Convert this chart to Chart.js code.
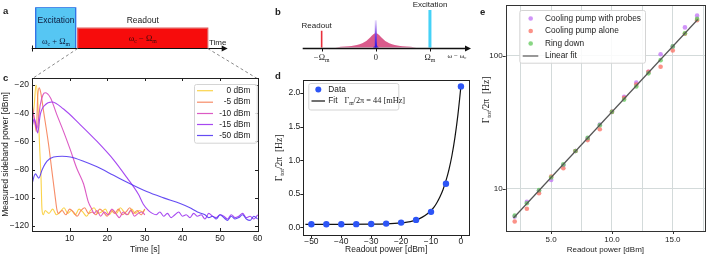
<!DOCTYPE html>
<html>
<head>
<meta charset="utf-8">
<script src="https://cdn.jsdelivr.net/npm/chart.js@4.4.1/dist/chart.umd.min.js"></script>
<style>
  html, body { margin: 0; padding: 0; background: #fff; }
  #fig { position: relative; width: 709px; height: 258px; overflow: hidden; background: #fff; }
  #fig canvas { position: absolute; }
</style>
</head>
<body>
<div id="fig">
  <canvas id="panelA" width="262" height="85" style="left:0px;top:0px"></canvas>
  <canvas id="panelC" width="262" height="188" style="left:0px;top:70px"></canvas>
  <canvas id="panelB" width="218" height="70" style="left:262px;top:0px"></canvas>
  <canvas id="panelD" width="212" height="190" style="left:262px;top:68px"></canvas>
  <canvas id="panelE" width="237" height="258" style="left:472px;top:0px"></canvas>
</div>
<script>
// ---------- data ----------

// a: pulse sequence (arbitrary time units)
const pulseNames = ['Excitation', 'Readout'];
const pulseStart = [0.4, 4.6];
const pulseEnd = [4.4, 17.6];
const pulseHeight = [1, 0.49];

// b: spectrum sketch (units of Omega_m)
const bTickPos = [-1, 0, 1];
const lorentzX = [-0.75, -0.65, -0.5, -0.4, -0.3, -0.2, -0.15, -0.1, -0.05, 0, 0.05, 0.1, 0.15, 0.2, 0.3, 0.4, 0.5, 0.65, 0.75];
const lorentzY = [0, 0.023, 0.038, 0.057, 0.09, 0.155, 0.21, 0.28, 0.35, 0.38, 0.35, 0.28, 0.21, 0.155, 0.09, 0.057, 0.038, 0.023, 0];
const peakX = [-0.06, -0.03, -0.015, 0, 0.015, 0.03, 0.06];
const peakY = [0, 0.03, 0.09, 0.2, 0.09, 0.03, 0];
const sidebandTop = 0.73;
const toneX = [-1, 1];          // readout, excitation
const toneY = [0.45, 1.0];

// c: ring-down traces, time [s] and power [dBm]
const cLabels = ['0 dBm', '-5 dBm', '-10 dBm', '-15 dBm', '-50 dBm'];
const cT0 = [0, 0.3, 0.6, 1.05, 1.5, 2, 2.4, 2.65, 3, 3.5, 4.5, 5.5, 6.5, 7.5, 8.5, 9.5, 10.5, 11.5, 12.5, 13.5, 14.5, 15.5, 16.5, 17.5, 18.5, 19.5, 20.5, 21.5, 22.5, 23.5, 24.5, 25.5, 26.5, 27.5, 28.5, 29.5, 30];
const cP0 = [-31, -41, -34, -20, -29, -62, -86, -108, -112, -109, -111, -108, -112, -110, -107, -111, -109, -112, -108, -110, -113, -109, -107, -111, -110, -108, -112, -109, -111, -107, -110, -112, -108, -111, -109, -110, -108];
const cT5 = [0, 0.6, 1.15, 1.5, 1.9, 2.3, 3.1, 4.4, 5.3, 6.2, 6.6, 7, 8, 9, 10, 11, 12, 13, 14, 15, 16, 17, 18, 19, 20, 21, 22, 23, 24, 25, 26, 27, 28, 29, 30];
const cP5 = [-37, -43, -53, -29, -22, -25, -39, -62, -81, -100, -108, -111, -109, -112, -108, -110, -113, -109, -107, -111, -110, -112, -108, -110, -113, -109, -111, -108, -112, -110, -107, -111, -109, -112, -108];
const cT10 = [0, 0.4, 1.3, 2.2, 2.9, 3.5, 4.9, 6.6, 8.4, 10.2, 11.9, 13.7, 15, 15.9, 16.5, 17.25, 18.25, 19.25, 20.25, 21.25, 22.25, 23.25, 24.25, 25.25, 26.25, 27.25, 28.25, 29.25, 30];
const cP10 = [-32, -41, -51, -34, -27, -25.5, -29, -41, -53, -66, -79, -90, -103, -108, -111, -109, -113, -110, -112, -108, -111, -114, -110, -112, -109, -113, -111, -110, -112];
const cT15 = [0, 0.6, 1.2, 1.5, 2.2, 3.5, 5.3, 8.4, 12.8, 17.3, 21.7, 25.2, 28.3, 29.6, 31, 32, 33, 34, 35, 36, 37, 38, 39, 40, 41, 42, 43, 44, 45, 46, 47, 48, 49, 50, 51, 52, 53, 54, 55, 56, 57, 58, 59, 60];
const cP15 = [-50, -44, -50, -54, -41, -34, -32, -37, -48, -60, -73, -85.5, -97.5, -104.5, -109, -111, -112, -110, -113, -111, -114, -112, -110, -113, -112, -114, -111, -113, -112, -115, -111, -113, -114, -112, -113, -115, -112, -114, -113, -111, -114, -113, -115, -112];
const cT50 = [0, 0.9, 1.8, 2.7, 4, 5.75, 8, 10.2, 13.7, 17.3, 21.7, 26.1, 30.5, 35, 39.4, 42, 44, 46, 47, 48, 49, 50, 51, 52, 53, 54, 55, 56, 57, 58, 59, 60];
const cP50 = [-90, -83, -86, -80, -74, -71, -70.5, -71, -74, -78, -84, -90, -95.5, -100, -104, -107, -110, -112, -114, -113, -115, -112, -114, -116, -113, -115, -114, -112, -115, -116, -113, -115];
const cTicksX = [10, 20, 30, 40, 50, 60];
const cTicksY = [-20, -40, -60, -80, -100, -120];

// d: total linewidth vs readout power
const dPower = [-50, -45, -40, -35, -30, -25, -20, -15, -10, -5, 0];
const dGamma = [0.045, 0.046, 0.046, 0.047, 0.048, 0.055, 0.07, 0.11, 0.23, 0.65, 2.1];
const dFitPower = [-52, -40, -30, -25, -20, -18, -16, -14, -12, -10, -9, -8, -7, -6, -5, -4, -3, -2, -1, 0];
const dFitGamma = [0.044, 0.044, 0.046, 0.051, 0.065, 0.077, 0.096, 0.126, 0.174, 0.25, 0.30, 0.37, 0.455, 0.56, 0.695, 0.86, 1.07, 1.34, 1.68, 2.10];
const dTicksX = [-50, -40, -30, -20, -10, 0];
const dTicksY = [0, 0.5, 1, 1.5, 2];

// e: linewidth vs power, three methods (log scale)
const ePower = [2, 3, 4, 5, 6, 7, 8, 9, 10, 11, 12, 13, 14, 15, 16, 17];
const eProbes = [6.2, 8.0, 9.7, 11.7, 15.1, 19.3, 24.0, 30.5, 38.0, 49.4, 63.0, 76.0, 103, 118, 164, 201];
const eAlone = [5.7, 7.1, 9.3, 12.4, 14.3, 19.3, 23.3, 28.1, 38.0, 48.5, 61.0, 76.0, 83.0, 110, 147, 186];
const eRing = [6.3, 7.8, 9.8, 12.2, 15.3, 19.3, 24.2, 30.2, 38.0, 47.0, 59.0, 74.0, 93.0, 118, 148, 190];
const eFitPower = [1.9, 17.05];
const eFitGamma = [6.05, 188];
const eTicksX = [2.5, 5, 7.5, 10, 12.5, 15, 17.5];
const eTicksY = [10, 100];

// ---------- helpers ----------
const SANS = "'Liberation Sans', Arial, sans-serif";
const SERIF = "'Liberation Serif', 'DejaVu Serif', serif";
const MINUS = '\u2212';

Chart.defaults.font.family = SANS;
Chart.defaults.font.size = 8.5;
Chart.defaults.color = '#222';
Chart.defaults.animation = false;
Chart.defaults.events = [];
Chart.defaults.plugins.legend.display = false;
Chart.defaults.plugins.tooltip.enabled = false;

const pts = (xs, ys) => xs.map((x, i) => ({ x, y: ys[i] }));
const signed = v => (v < 0 ? MINUS + Math.abs(v) : String(v));
const setTicks = list => s => { s.ticks = list.map(v => ({ value: v })); };
const fixWidth = w => s => { s.width = w; s.paddingTop = 0; s.paddingBottom = 0; };
const fixHeight = h => s => { s.height = h; s.paddingLeft = 0; s.paddingRight = 0; };

// text with optional subscripts: parts = [[text, kind]] kind '', 'sub' or 'sans'
function drawText(ctx, n) {
  const parts = n.parts || [[n.text, '']];
  const fontFor = k => (n.weight || 'normal') + ' ' + (k === 'sub' ? n.size * 0.68 : n.size) + 'px ' +
    (k === 'sans' ? SANS : (n.serif ? SERIF : SANS));
  ctx.save();
  ctx.translate(n.x, n.y);
  if (n.rot) ctx.rotate(n.rot);
  ctx.fillStyle = n.color || '#222';
  ctx.textBaseline = 'middle';
  ctx.textAlign = 'left';
  let w = 0;
  parts.forEach(([t, k]) => { ctx.font = fontFor(k); w += ctx.measureText(t).width; });
  let cx = n.align === 'center' ? -w / 2 : n.align === 'right' ? -w : 0;
  parts.forEach(([t, k]) => {
    ctx.font = fontFor(k);
    ctx.fillText(t, cx, k === 'sub' ? n.size * 0.3 : 0);
    cx += ctx.measureText(t).width;
  });
  ctx.restore();
}

// free text, page coordinates
const notesPlugin = {
  id: 'notes',
  afterDraw(chart, args, o) {
    if (!o || !o.items) return;
    const ctx = chart.ctx;
    ctx.save();
    ctx.translate(-o.origin[0], -o.origin[1]);
    o.items.forEach(n => drawText(ctx, n));
    ctx.restore();
  }
};

// axes box with tick marks (matplotlib look)
const framePlugin = {
  id: 'frame',
  afterDraw(chart, args, o) {
    if (!o || !o.show) return;
    const { ctx, chartArea: a } = chart;
    const xs = chart.scales.x, ys = chart.scales.y;
    const d = o.dir === 'in' ? 1 : -1, L = o.len || 3;
    ctx.save();
    ctx.strokeStyle = o.color || '#222';
    ctx.lineWidth = 1;
    ctx.strokeRect(Math.round(a.left) + 0.5, Math.round(a.top) + 0.5,
      Math.round(a.right - a.left), Math.round(a.bottom - a.top));
    ctx.beginPath();
    xs.ticks.forEach(t => {
      if (t.label === '') return;
      const p = Math.round(xs.getPixelForValue(t.value)) + 0.5;
      ctx.moveTo(p, a.bottom); ctx.lineTo(p, a.bottom - d * L);
      if (o.mirror) { ctx.moveTo(p, a.top); ctx.lineTo(p, a.top + d * L); }
    });
    ys.ticks.forEach(t => {
      if (t.label === '') return;
      const p = Math.round(ys.getPixelForValue(t.value)) + 0.5;
      ctx.moveTo(a.left, p); ctx.lineTo(a.left + d * L, p);
      if (o.mirror) { ctx.moveTo(a.right, p); ctx.lineTo(a.right - d * L, p); }
    });
    ctx.stroke();
    ctx.restore();
  }
};

// legend box drawn inside the axes
const boxLegendPlugin = {
  id: 'boxLegend',
  afterDraw(chart, args, o) {
    if (!o || !o.box) return;
    const ctx = chart.ctx;
    const [x0, y0, x1, y1] = o.box;
    ctx.save();
    ctx.translate(-o.origin[0], -o.origin[1]);
    ctx.fillStyle = 'rgba(255,255,255,0.85)';
    ctx.strokeStyle = '#d4d4d4';
    ctx.lineWidth = 1;
    ctx.beginPath();
    ctx.roundRect(x0 + 0.5, y0 + 0.5, x1 - x0, y1 - y0, 2);
    ctx.fill();
    ctx.stroke();
    o.rows.forEach(r => {
      const ds = chart.data.datasets[r.ds];
      if (r.mark === 'dot') {
        ctx.fillStyle = ds.backgroundColor;
        ctx.beginPath();
        ctx.arc(o.dotX, r.y, o.dotR, 0, Math.PI * 2);
        ctx.fill();
      } else {
        ctx.strokeStyle = ds.borderColor;
        ctx.lineWidth = o.lineW || 1.2;
        ctx.beginPath();
        ctx.moveTo(o.lineX[0], r.y);
        ctx.lineTo(o.lineX[1], r.y);
        ctx.stroke();
      }
      drawText(ctx, { x: o.textX, y: r.y, size: o.size, align: o.align, text: ds.label, parts: r.parts, serif: r.serif });
    });
    ctx.restore();
  }
};

// arrow axis for the sketches (a, b)
const arrowAxisPlugin = {
  id: 'arrowAxis',
  afterDraw(chart, args, o) {
    if (!o || !o.show) return;
    const { ctx, chartArea: a } = chart;
    const xs = chart.scales.x;
    const y = Math.round(a.bottom) + 0.5;
    ctx.save();
    ctx.strokeStyle = '#111';
    ctx.fillStyle = '#111';
    ctx.lineWidth = o.width || 1;
    ctx.beginPath();
    ctx.moveTo(a.left, y);
    ctx.lineTo(a.right - 2, y);
    ctx.stroke();
    ctx.beginPath();
    ctx.moveTo(a.right + 1, y);
    ctx.lineTo(a.right - 5, y - 3);
    ctx.lineTo(a.right - 5, y + 3);
    ctx.closePath();
    ctx.fill();
    ctx.lineWidth = 1;
    ctx.beginPath();
    (o.ticks || []).forEach(v => {
      const p = Math.round(xs.getPixelForValue(v)) + 0.5;
      ctx.moveTo(p, y - o.up); ctx.lineTo(p, y + o.down);
    });
    ctx.stroke();
    (o.labels || []).forEach((parts, i) => {
      drawText(ctx, { x: xs.getPixelForValue(o.ticks[i]), y: y + o.labelDy, size: o.size, align: 'center', parts, serif: true });
    });
    // dashed zoom lines towards panel c
    if (o.links) {
      ctx.strokeStyle = '#8a8a8a';
      ctx.setLineDash([3, 2.5]);
      ctx.beginPath();
      o.links.forEach(([v, tx, ty]) => {
        ctx.moveTo(xs.getPixelForValue(v), y);
        ctx.lineTo(tx, ty);
      });
      ctx.stroke();
    }
    ctx.restore();
  }
};

const allPlugins = [framePlugin, notesPlugin, boxLegendPlugin, arrowAxisPlugin];

// ---------- a: pulse sequence ----------
const pulseFill = ['#56c6f3', '#f70c0c'];
const pulseEdge = ['#2c6fe6', '#e45858'];
new Chart(document.getElementById('panelA'), {
  type: 'line',
  data: {
    datasets: pulseNames.map((name, i) => ({
      label: name,
      data: pts([pulseStart[i], pulseStart[i], pulseEnd[i], pulseEnd[i]], [0, pulseHeight[i], pulseHeight[i], 0]),
      fill: 'origin',
      backgroundColor: pulseFill[i],
      borderColor: pulseEdge[i],
      borderWidth: 1.3,
      pointRadius: 0
    }))
  },
  options: {
    responsive: false,
    layout: { padding: { left: 31.7, right: 35.3, top: 7.3, bottom: 36.7 } },
    scales: {
      x: { type: 'linear', min: 0, max: 19.5, display: false },
      y: { min: 0, max: 1, display: false }
    },
    plugins: {
      arrowAxis: { show: true, ticks: [0], up: 3, down: 3, links: [[pulseStart[1], 31.7, 79], [pulseEnd[1], 258, 79]] },
      notes: {
        origin: [0, 0],
        items: [
          { text: 'a', x: 3, y: 11.5, size: 9.5, weight: 'bold' },
          { text: 'c', x: 3, y: 78.5, size: 9.5, weight: 'bold' },
          { text: 'Excitation', x: 56, y: 20.7, size: 8.5, align: 'center', color: '#0d1b3e' },
          { parts: [['ω', ''], ['c', 'sub'], [' + Ω', ''], ['m', 'sub']], x: 56, y: 41.5, size: 8.5, align: 'center', serif: true, color: '#0d1b3e' },
          { text: 'Readout', x: 142.7, y: 20.7, size: 8.5, align: 'center' },
          { parts: [['ω', ''], ['c', 'sub'], [' − Ω', ''], ['m', 'sub']], x: 142.7, y: 38.5, size: 8.5, align: 'center', serif: true, color: '#3a0a0a' },
          { text: 'Time', x: 209, y: 42.7, size: 8 }
        ]
      }
    }
  },
  plugins: allPlugins
});

// ---------- b: spectrum sketch ----------
new Chart(document.getElementById('panelB'), {
  type: 'line',
  data: {
    datasets: [
      { label: 'Sideband', data: pts(lorentzX, lorentzY), fill: 'origin', backgroundColor: 'rgba(212,62,120,0.85)',
        borderWidth: 0, pointRadius: 0, cubicInterpolationMode: 'monotone', order: 5 },
      { label: 'Peak', data: pts(peakX, peakY), fill: 'origin', backgroundColor: '#3516e6',
        borderWidth: 0, pointRadius: 0, order: 4 },
      { label: 'Line', data: pts([0, 0], [0, sidebandTop]), pointRadius: 0, borderWidth: 2, order: 3,
        borderColor: c => {
          const ch = c.chart;
          if (!ch.chartArea) return '#6a3be8';
          const y = ch.scales.y;
          const g = ch.ctx.createLinearGradient(0, y.getPixelForValue(0), 0, y.getPixelForValue(sidebandTop));
          g.addColorStop(0, '#2a12e0');
          g.addColorStop(0.5, '#7b45e8');
          g.addColorStop(1, 'rgba(222,206,250,0.7)');
          return g;
        } },
      { label: 'Readout', data: pts([toneX[0], toneX[0]], [0, toneY[0]]), borderColor: '#e8303c', borderWidth: 1.6, pointRadius: 0, order: 2 },
      { label: 'Excitation', data: pts([toneX[1], toneX[1]], [0, toneY[1]]), borderColor: '#45d2f7', borderWidth: 3, pointRadius: 0, order: 1 }
    ]
  },
  options: {
    responsive: false,
    layout: { padding: { left: 40.7, right: 10, top: 10, bottom: 22.3 } },
    scales: {
      x: { type: 'linear', min: -1.35, max: 1.74, display: false },
      y: { min: 0, max: 1, display: false }
    },
    plugins: {
      arrowAxis: {
        show: true, width: 1.3, ticks: bTickPos, up: 0, down: 3, labelDy: 9, size: 8.5,
        labels: [[['−Ω', ''], ['m', 'sub']], [['0', '']], [['Ω', ''], ['m', 'sub']]]
      },
      notes: {
        origin: [262, 0],
        items: [
          { text: 'b', x: 275, y: 12.3, size: 9.5, weight: 'bold' },
          { text: 'Readout', x: 316.7, y: 25.7, size: 8, align: 'center' },
          { text: 'Excitation', x: 430, y: 5, size: 8, align: 'center' },
          { parts: [['ω − ω', ''], ['c', 'sub']], x: 457, y: 56, size: 7, align: 'center', serif: true }
        ]
      }
    }
  },
  plugins: allPlugins
});

// ---------- c: ring-down traces ----------
const cColors = ['rgba(250,206,55,0.9)', 'rgba(246,128,86,0.9)', 'rgba(216,72,190,0.9)', 'rgba(156,52,240,0.9)', 'rgba(84,56,242,0.9)'];
const cTimes = [cT0, cT5, cT10, cT15, cT50];
const cPowers = [cP0, cP5, cP10, cP15, cP50];
new Chart(document.getElementById('panelC'), {
  type: 'line',
  data: {
    datasets: cLabels.map((label, i) => ({
      label,
      data: pts(cTimes[i], cPowers[i]),
      borderColor: cColors[i],
      borderWidth: 1.1,
      pointRadius: 0,
      cubicInterpolationMode: 'monotone',
      order: cLabels.length - i
    }))
  },
  options: {
    responsive: false,
    layout: { padding: { left: 0, right: 4, top: 8, bottom: 0 } },
    scales: {
      x: {
        type: 'linear', min: 0, max: 60.1,
        afterBuildTicks: setTicks(cTicksX), afterFit: fixHeight(27),
        grid: { display: false, drawTicks: false }, border: { display: false },
        ticks: { padding: 3, autoSkip: false, maxRotation: 0, callback: v => signed(v) },
        title: { display: true, text: 'Time [s]', font: { size: 8.5 }, padding: { top: 0, bottom: 3 } }
      },
      y: {
        min: -123.5, max: -15,
        afterBuildTicks: setTicks(cTicksY), afterFit: fixWidth(32),
        grid: { display: false, drawTicks: false }, border: { display: false },
        ticks: { padding: 3, autoSkip: false, callback: v => signed(v) },
        title: { display: true, text: 'Measured sideband power [dBm]', font: { size: 8.5 }, padding: { top: 1, bottom: 0 } }
      }
    },
    plugins: {
      frame: { show: true, dir: 'in', mirror: true, len: 3 },
      boxLegend: {
        origin: [0, 70], box: [194, 84, 256.7, 142.7], lineX: [197, 213], textX: 250.5, align: 'right', size: 8.3, lineW: 1.2,
        rows: [{ ds: 0, y: 90.7 }, { ds: 1, y: 102.2 }, { ds: 2, y: 113.5 }, { ds: 3, y: 124.5 }, { ds: 4, y: 135.5 }]
      }
    }
  },
  plugins: allPlugins
});

// ---------- d: linewidth vs readout power ----------
new Chart(document.getElementById('panelD'), {
  type: 'line',
  data: {
    datasets: [
      { label: 'Data', data: pts(dPower, dGamma), showLine: false, pointRadius: 3.2,
        backgroundColor: '#2d55f6', pointBackgroundColor: '#2d55f6', pointBorderWidth: 0, order: 0 },
      { label: 'Fit', data: pts(dFitPower, dFitGamma), borderColor: '#111', borderWidth: 1.2, pointRadius: 0,
        cubicInterpolationMode: 'monotone', order: 1 }
    ]
  },
  options: {
    responsive: false,
    layout: { padding: { left: 0, right: 5, top: 11.7, bottom: 0 } },
    scales: {
      x: {
        type: 'linear', min: -52.7, max: 2.7,
        afterBuildTicks: setTicks(dTicksX), afterFit: fixHeight(23),
        grid: { display: false, drawTicks: false }, border: { display: false },
        ticks: { padding: 1.5, autoSkip: false, maxRotation: 0, callback: v => signed(v) },
        title: { display: true, text: 'Readout power [dBm]', font: { size: 8.5 }, padding: { top: 0, bottom: 3 } }
      },
      y: {
        min: -0.115, max: 2.2,
        afterBuildTicks: setTicks(dTicksY), afterFit: fixWidth(41.3),
        grid: { display: false, drawTicks: false }, border: { display: false },
        ticks: { padding: 3, autoSkip: false, callback: v => v.toFixed(1) }
      }
    },
    plugins: {
      frame: { show: true, dir: 'out', mirror: false, len: 3 },
      boxLegend: {
        origin: [262, 68], box: [308.3, 83, 398.3, 109.5], lineX: [311.5, 325], dotX: 318.3, dotR: 3, textX: 328.3,
        align: 'left', size: 8.3, lineW: 1.2,
        rows: [
          { ds: 0, y: 89.5, mark: 'dot' },
          { ds: 1, y: 101, serif: true, parts: [['Fit   ', 'sans'], ['Γ', ''], ['m', 'sub'], ['/2π = 44 [mHz]', '']] }
        ]
      },
      notes: {
        origin: [262, 68],
        items: [
          { text: 'd', x: 275, y: 76.5, size: 9.5, weight: 'bold' },
          { parts: [['Γ', ''], ['tot', 'sub'], ['/2π  [Hz]', '']], x: 279, y: 158, size: 9.5, align: 'center', serif: true, rot: -Math.PI / 2 }
        ]
      }
    }
  },
  plugins: allPlugins
});

// ---------- e: three methods, log scale ----------
new Chart(document.getElementById('panelE'), {
  type: 'line',
  data: {
    datasets: [
      { label: 'Cooling pump with probes', data: pts(ePower, eProbes), showLine: false, pointRadius: 2.3, pointBorderWidth: 0,
        backgroundColor: 'rgba(192,112,246,0.75)', pointBackgroundColor: 'rgba(192,112,246,0.75)', order: 3 },
      { label: 'Cooling pump alone', data: pts(ePower, eAlone), showLine: false, pointRadius: 2.3, pointBorderWidth: 0,
        backgroundColor: 'rgba(250,110,96,0.75)', pointBackgroundColor: 'rgba(250,110,96,0.75)', order: 2 },
      { label: 'Ring down', data: pts(ePower, eRing), showLine: false, pointRadius: 2.3, pointBorderWidth: 0,
        backgroundColor: 'rgba(96,200,90,0.75)', pointBackgroundColor: 'rgba(96,200,90,0.75)', order: 1 },
      { label: 'Linear fit', data: pts(eFitPower, eFitGamma), borderColor: '#555', borderWidth: 1.2, pointRadius: 0, order: 0 }
    ]
  },
  options: {
    responsive: false,
    layout: { padding: { left: 0, right: 1.7, top: 5, bottom: 0 } },
    scales: {
      x: {
        type: 'linear', min: 1.26, max: 17.65,
        afterBuildTicks: setTicks(eTicksX), afterFit: fixHeight(27),
        grid: { color: '#d3dada', drawTicks: false }, border: { display: false },
        ticks: { padding: 4, autoSkip: false, maxRotation: 0, font: { size: 8 }, callback: v => (v % 5 === 0 ? v.toFixed(1) : '') },
        title: { display: true, text: 'Readout power [dBm]', font: { size: 8 }, padding: { top: 0, bottom: 3 } }
      },
      y: {
        type: 'logarithmic', min: 4.83, max: 241.7,
        afterBuildTicks: setTicks(eTicksY), afterFit: fixWidth(33.7),
        grid: { color: '#d3dada', drawTicks: false }, border: { display: false },
        ticks: { padding: 3, autoSkip: false, font: { size: 8 }, callback: v => String(v) }
      }
    },
    plugins: {
      frame: { show: true, dir: 'out', mirror: false, len: 3, color: '#333' },
      boxLegend: {
        origin: [472, 0], box: [519.3, 10, 645, 62.7], lineX: [522.7, 538.3], dotX: 530.7, dotR: 2.3, textX: 545,
        align: 'left', size: 8.3, lineW: 1.2,
        rows: [{ ds: 0, y: 18.5, mark: 'dot' }, { ds: 1, y: 31, mark: 'dot' }, { ds: 2, y: 43.5, mark: 'dot' }, { ds: 3, y: 56 }]
      },
      notes: {
        origin: [472, 0],
        items: [
          { text: 'e', x: 480, y: 12.7, size: 9.5, weight: 'bold' },
          { parts: [['Γ', ''], ['tot', 'sub'], ['/2π  [Hz]', '']], x: 486.7, y: 100, size: 9.5, align: 'center', serif: true, rot: -Math.PI / 2 }
        ]
      }
    }
  },
  plugins: allPlugins
});
</script>
</body>
</html>
